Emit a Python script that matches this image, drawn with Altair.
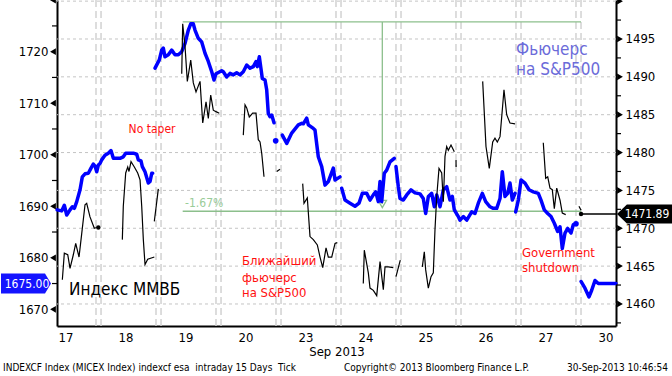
import json
import altair as alt
import pandas as pd

FONT = "DejaVu Sans Condensed, DejaVu Sans, sans-serif"

# ---------------- data ----------------
DAY_LABELS = ["17", "18", "19", "20", "23", "24", "25", "26", "27", "30"]
DAY_TICKS = [i + 0.45 for i in range(len(DAY_LABELS))]
SESSION_BREAKS = [k + d for k in range(1, 10) for d in (-0.042, 0.042)]

LEFT_LABELS = [1670, 1680, 1690, 1700, 1710, 1720]
LEFT_MAJOR = [1670, 1680, 1690, 1700, 1710, 1720, 1730]
LEFT_MINOR = [1675, 1685, 1695, 1705, 1715, 1725]
RIGHT_LABELS = [1460, 1465, 1470, 1475, 1480, 1485, 1490, 1495]
RIGHT_MAJOR = [1460, 1465, 1470, 1475, 1480, 1485, 1490, 1495, 1500]
RIGHT_MINOR = [1457.5, 1462.5, 1467.5, 1472.5, 1477.5, 1482.5, 1487.5, 1492.5, 1497.5]
RIGHT_GRID = [1460, 1465, 1470, 1475, 1480, 1485, 1490, 1495, 1500]

# MICEX index (left axis), trading-day time vs value
MICEX_SEGMENTS = [
    [(0.31, 1689.3), (0.387, 1689.1), (0.43, 1690.2), (0.47, 1688.3), (0.525, 1689.3), (0.563, 1689.9),
     (0.597, 1689.6), (0.637, 1690.9), (0.692, 1693.2), (0.73, 1695.7), (0.775, 1696.3), (0.83, 1696.4),
     (0.875, 1697.4), (0.913, 1698.2), (0.942, 1697.8), (0.97, 1696.7), (0.997, 1698.0), (1.025, 1698.3),
     (1.053, 1699.0), (1.108, 1699.9), (1.163, 1700.3), (1.208, 1700.8), (1.247, 1699.3), (1.358, 1699.3),
     (1.413, 1699.6), (1.453, 1700.3), (1.58, 1700.3), (1.637, 1700.1), (1.663, 1699.0), (1.708, 1698.8),
     (1.73, 1697.7), (1.775, 1696.7), (1.83, 1694.5), (1.858, 1694.8), (1.887, 1696.4), (1.903, 1696.4)],
    [(1.942, 1716.8), (2.013, 1718.4), (2.053, 1720.3), (2.08, 1720.7), (2.108, 1719.0), (2.163, 1719.4),
     (2.22, 1720.3), (2.275, 1719.4), (2.33, 1719.4), (2.387, 1720.0), (2.442, 1721.6), (2.497, 1724.2),
     (2.537, 1725.4), (2.58, 1725.4), (2.608, 1724.2), (2.663, 1722.6), (2.72, 1721.9), (2.775, 1719.7),
     (2.83, 1718.1), (2.887, 1716.1), (2.925, 1714.5), (2.958, 1715.7), (3.053, 1716.3), (3.08, 1716.1),
     (3.137, 1715.1), (3.192, 1715.8), (3.247, 1715.5), (3.303, 1715.9), (3.358, 1715.5), (3.413, 1716.1),
     (3.47, 1717.4), (3.525, 1716.8), (3.58, 1717.1), (3.625, 1718.1), (3.647, 1717.1), (3.68, 1719.0),
     (3.703, 1717.1), (3.73, 1714.8), (3.775, 1714.5), (3.803, 1712.6), (3.83, 1708.0), (3.858, 1707.4),
     (3.887, 1707.7), (3.925, 1706.2)],
    [(4.063, 1703.8), (4.137, 1702.2), (4.22, 1704.2), (4.33, 1705.8), (4.387, 1706.1), (4.413, 1706.0),
     (4.47, 1707.1), (4.497, 1705.8), (4.58, 1705.1), (4.608, 1704.8), (4.663, 1699.6), (4.72, 1697.7),
     (4.775, 1694.1), (4.83, 1694.8), (4.913, 1697.4), (4.942, 1695.1), (5.025, 1695.7)],
    [(5.053, 1693.5), (5.108, 1691.2), (5.192, 1690.6), (5.275, 1690.0), (5.342, 1690.6), (5.397, 1692.5),
     (5.47, 1692.5), (5.525, 1691.2), (5.58, 1692.2), (5.62, 1692.8), (5.663, 1690.9), (5.692, 1694.8),
     (5.72, 1690.9), (5.763, 1696.4), (5.803, 1697.0), (5.858, 1698.6), (5.93, 1699.3)],
    [(5.958, 1697.7), (5.997, 1693.8), (6.025, 1691.5), (6.08, 1691.2), (6.137, 1692.2), (6.208, 1693.2),
     (6.275, 1692.6), (6.358, 1692.4), (6.413, 1691.5), (6.453, 1688.6), (6.497, 1691.9), (6.553, 1692.5),
     (6.597, 1689.9), (6.637, 1692.2), (6.692, 1689.9), (6.747, 1693.2), (6.803, 1693.8), (6.858, 1691.2),
     (6.897, 1691.9), (6.93, 1689.3), (6.997, 1688.0), (7.025, 1687.3), (7.08, 1688.0), (7.137, 1687.3),
     (7.22, 1688.9), (7.275, 1688.6), (7.33, 1690.6), (7.397, 1692.5), (7.453, 1690.9), (7.525, 1689.9),
     (7.58, 1689.6), (7.637, 1689.6), (7.692, 1691.5), (7.73, 1696.7), (7.775, 1691.9), (7.82, 1692.5),
     (7.858, 1694.5), (7.897, 1691.2), (7.942, 1692.5)],
    [(7.953, 1688.9), (7.997, 1691.2), (8.042, 1695.1), (8.108, 1694.5), (8.175, 1693.2), (8.247, 1692.8),
     (8.33, 1692.5), (8.375, 1691.2), (8.43, 1689.3), (8.487, 1688.6), (8.542, 1688.0), (8.597, 1686.7),
     (8.653, 1685.1), (8.692, 1686.0), (8.73, 1681.8), (8.775, 1684.8), (8.82, 1685.7), (8.875, 1684.8),
     (8.913, 1686.4)],
    [(9.042, 1675.4), (9.108, 1674.1), (9.175, 1672.4), (9.22, 1673.7), (9.275, 1675.6), (9.33, 1675.0),
     (9.625, 1675.0)],
]
MICEX_DOTS = [(3.953, 1702.7), (8.958, 1686.6)]
MICEX_LAST = 1675.00

# Nearest S&P500 future (right axis)
SPF_SEGMENTS = [
    [(0.397, 1463.2), (0.43, 1466.7), (0.487, 1466.5), (0.525, 1464.7), (0.58, 1466.5), (0.62, 1468.0),
     (0.675, 1466.2), (0.72, 1469.3), (0.775, 1473.1), (0.803, 1473.3), (0.858, 1471.5), (0.93, 1470.0),
     (0.97, 1470.1)],
    [(1.397, 1468.5), (1.413, 1472.9), (1.453, 1477.3), (1.487, 1478.1), (1.508, 1477.5), (1.542, 1478.8),
     (1.597, 1478.1), (1.653, 1477.3), (1.692, 1476.4), (1.72, 1472.9), (1.747, 1468.5), (1.775, 1465.2),
     (1.82, 1465.9), (1.93, 1466.2)],
    [(1.93, 1470.9), (1.997, 1475.2)],
    [(2.387, 1490.4), (2.403, 1497.0), (2.442, 1494.0), (2.48, 1489.4), (2.537, 1492.2), (2.58, 1489.2),
     (2.625, 1488.0), (2.692, 1489.4), (2.737, 1483.9), (2.792, 1486.7), (2.83, 1484.5), (2.87, 1487.6),
     (2.913, 1485.6), (2.958, 1485.4), (3.013, 1485.2)],
    [(3.413, 1482.3), (3.442, 1486.3), (3.47, 1485.9), (3.513, 1484.7), (3.57, 1485.2), (3.625, 1485.2),
     (3.663, 1481.7), (3.692, 1481.4), (3.72, 1479.9), (3.758, 1476.8)],
    [(3.97, 1477.5), (4.025, 1477.8)],
    [(4.403, 1475.9), (4.425, 1473.3), (4.48, 1474.0), (4.525, 1468.9), (4.58, 1468.5), (4.647, 1467.8),
     (4.692, 1466.2), (4.737, 1464.8), (4.792, 1467.4), (4.83, 1466.2), (4.887, 1466.2), (4.942, 1468.0),
     (4.98, 1468.1)],
    [(5.413, 1462.7), (5.43, 1467.1), (5.497, 1464.1), (5.525, 1462.1), (5.58, 1461.8), (5.637, 1461.1),
     (5.692, 1465.6), (5.747, 1461.9), (5.775, 1464.9), (5.83, 1464.9), (5.913, 1464.8)],
    [(5.958, 1463.6), (6.03, 1465.8)],
    [(6.397, 1464.9), (6.43, 1466.9), (6.453, 1464.5), (6.497, 1462.1), (6.542, 1463.6), (6.58, 1464.1),
     (6.608, 1469.8), (6.637, 1474.2), (6.675, 1477.9), (6.72, 1477.3), (6.747, 1473.5), (6.775, 1479.5),
     (6.803, 1480.8), (6.83, 1480.3), (6.875, 1481.0), (6.93, 1480.1)],
    [(6.958, 1479.0), (6.96, 1478.1)],
    [(7.403, 1489.4), (7.458, 1480.8), (7.513, 1477.9), (7.57, 1481.4), (7.608, 1481.9), (7.647, 1481.4),
     (7.692, 1482.1), (7.72, 1484.7), (7.758, 1488.3), (7.803, 1485.0), (7.858, 1483.9), (7.942, 1483.8)],
    [(8.413, 1481.3), (8.453, 1476.6), (8.487, 1476.8), (8.525, 1475.3), (8.563, 1475.1), (8.597, 1472.6),
     (8.637, 1475.3), (8.692, 1473.7), (8.73, 1472.0), (8.787, 1471.8)],
    [(9.008, 1472.9), (9.042, 1472.4)],
]
SPF_DOTS = [(0.997, 1470.1), (9.042, 1471.89)]
SPF_LAST = 1471.89

# high/low study on the future
STUDY_HIGH = 1497.25
STUDY_LOW = 1472.25
STUDY_T0 = 2.403
STUDY_T1 = 9.042
STUDY_TV = 5.73
STUDY_MARK = 1473.2
STUDY_LABEL = "-1.67%"

# annotations (left scale)
NOTE_TEXT = ["No taper", "Индекс ММВБ", "Ближайший", "фьючерс", "на S&P500",
             "Фьючерс", "на S&P500", "Government", "shutdown"]
NOTE_T = [1.892, 0.508, 3.392, 3.392, 3.392, 7.958, 7.958, 8.058, 8.058]
NOTE_V = [1705.0, 1673.7, 1679.4, 1676.1, 1673.2, 1720.3, 1716.4, 1680.9, 1678.0]
NOTE_KIND = ["red_c", "black_big", "red", "red", "red", "purple", "purple", "red", "red"]

NBSP = "\u00a0"
FOOTER_LEFT = "INDEXCF Index (MICEX Index) indexcf esa" + NBSP + " intraday 15 Days" + NBSP + " Tick"
FOOTER_MID = "Copyright\u00a9 2013 Bloomberg Finance L.P."
FOOTER_RIGHT = "30-Sep-2013 10:46:54"

X_DOMAIN = [0.308, 9.625]
LEFT_DOMAIN = [1666.76, 1730.03]
RIGHT_DOMAIN = [1457.09, 1500.15]

W, H = 559, 326
BLUE = "#0000ff"
GREEN = "#8cbf8c"
RED = "#ff1010"
PURPLE = "#6b6bd9"


def seg_frame(segments):
    rows = []
    for i, seg in enumerate(segments):
        for t, v in seg:
            rows.append({"t": t, "v": v, "seg": i})
    return pd.DataFrame(rows)


micex_df = seg_frame(MICEX_SEGMENTS)
spf_df = seg_frame(SPF_SEGMENTS)

xscale = alt.Scale(domain=X_DOMAIN, nice=False, zero=False)
yl = alt.Scale(domain=LEFT_DOMAIN, nice=False, zero=False)
yr = alt.Scale(domain=RIGHT_DOMAIN, nice=False, zero=False)

x_axis = alt.Axis(
    values=DAY_TICKS,
    labelExpr=json.dumps(DAY_LABELS) + "[floor(datum.value)]",
    ticks=False, grid=False, domain=True, domainColor="black", domainWidth=2,
    labelFont=FONT, labelFontSize=13, labelColor="black", labelPadding=5,
    labelFlush=False, labelOverlap=False,
    title="Sep 2013", titleFont=FONT, titleFontSize=13, titleFontWeight="normal",
    titleColor="black", titlePadding=1,
)
X = alt.X("t:Q", scale=xscale, axis=x_axis)

left_axis = alt.Axis(
    orient="left", values=LEFT_LABELS, format="d", ticks=False, grid=False, domain=True,
    domainColor="black", domainWidth=2, labelFont=FONT, labelFontSize=13,
    labelColor="black", labelPadding=9, title=None,
)
right_axis = alt.Axis(
    orient="right", values=RIGHT_LABELS, format="d", ticks=False, grid=False, domain=True,
    domainColor="black", domainWidth=2, labelFont=FONT, labelFontSize=13,
    labelColor="black", labelPadding=9, title=None,
)

# ---------------- background group (right domain, no axis) ----------------
YRB = alt.Y("v:Q", scale=yr, axis=None)
hgrid = alt.Chart(pd.DataFrame({"v": RIGHT_GRID})).mark_rule(
    color="#c4c4c4", strokeDash=[3, 3], strokeWidth=1).encode(y=YRB)
vgrid = alt.Chart(pd.DataFrame({"t": SESSION_BREAKS})).mark_rule(
    color="#d2d2d2", strokeDash=[7, 4], strokeWidth=1.5).encode(x=X)
study_h = alt.Chart(pd.DataFrame({"t": [STUDY_T0, STUDY_T0], "t2": [STUDY_T1, STUDY_T1],
                                  "v": [STUDY_HIGH, STUDY_LOW]})).mark_rule(
    color=GREEN, strokeWidth=1.3).encode(x=X, x2="t2:Q", y=YRB)
study_v = alt.Chart(pd.DataFrame({"t": [STUDY_TV], "v": [STUDY_HIGH], "v2": [STUDY_MARK]})).mark_rule(
    color=GREEN, strokeWidth=1.3).encode(x=X, y=YRB, y2="v2:Q")
study_tri = alt.Chart(pd.DataFrame({"t": [STUDY_TV], "v": [STUDY_MARK]})).mark_point(
    shape="triangle-down", filled=False, color=GREEN, size=70, strokeWidth=1.3, opacity=1).encode(x=X, y=YRB)
study_txt = alt.Chart(pd.DataFrame({"t": [STUDY_T0 + 0.04], "v": [STUDY_LOW], "s": [STUDY_LABEL]})).mark_text(
    align="left", baseline="bottom", dy=-1, font=FONT, fontSize=12, color="#99cc99").encode(
    x=X, y=YRB, text="s:N")

footer_l = alt.Chart(pd.DataFrame({"s": [FOOTER_LEFT]})).mark_text(
    align="left", baseline="middle", font=FONT, fontSize=10, color="black").encode(
    text="s:N", x=alt.value(-54), y=alt.value(368))
footer_m = alt.Chart(pd.DataFrame({"s": [FOOTER_MID]})).mark_text(
    align="left", baseline="middle", font=FONT, fontSize=10, color="black").encode(
    text="s:N", x=alt.value(287), y=alt.value(368))
footer_r = alt.Chart(pd.DataFrame({"s": [FOOTER_RIGHT]})).mark_text(
    align="right", baseline="middle", font=FONT, fontSize=10, color="black").encode(
    text="s:N", x=alt.value(611), y=alt.value(368))

background = alt.layer(hgrid, vgrid, study_h, study_v, study_tri, study_txt,
                       footer_l, footer_m, footer_r)

# ---------------- MICEX group (left axis) ----------------
YL = alt.Y("v:Q", scale=yl, axis=left_axis)
micex_line = alt.Chart(micex_df).mark_line(
    color=BLUE, strokeWidth=3.5, strokeJoin="round", strokeCap="round").encode(
    x=X, y=YL, detail="seg:N")
micex_dots = alt.Chart(pd.DataFrame(MICEX_DOTS, columns=["t", "v"])).mark_point(
    filled=True, color=BLUE, size=32, opacity=1).encode(x=X, y=YL)
left_ticks = alt.Chart(pd.DataFrame({"v": LEFT_MAJOR})).mark_point(
    shape="triangle-left", filled=True, color="black", size=45, opacity=1).encode(
    x=alt.value(-4), y=YL)
left_minor = alt.Chart(pd.DataFrame({"v": LEFT_MINOR})).mark_rule(
    color="black", strokeWidth=1.2).encode(x=alt.value(-5), x2=alt.value(0), y=YL)
blue_box = alt.Chart(pd.DataFrame({"v": [MICEX_LAST]})).mark_point(
    shape="M-1,-0.4L0.76,-0.4L1,0L0.76,0.4L-1,0.4Z", filled=True, color="#1414ff",
    size=2500, opacity=1).encode(x=alt.value(-31), y=YL)
blue_box_txt = alt.Chart(pd.DataFrame({"v": [MICEX_LAST], "s": [f"{MICEX_LAST:.2f}"]})).mark_text(
    font=FONT, fontSize=12, color="white", baseline="middle", align="center").encode(
    x=alt.value(-30), y=YL, text="s:N")

notes_df = pd.DataFrame({"t": NOTE_T, "v": NOTE_V, "s": NOTE_TEXT, "k": NOTE_KIND})
note_layers = []
for kind, color, size, align in [("red_c", RED, 12, "center"), ("black_big", "black", 17, "left"),
                                 ("red", RED, 13, "left"), ("purple", PURPLE, 17, "left")]:
    note_layers.append(
        alt.Chart(notes_df).transform_filter(alt.datum.k == kind).mark_text(
            font=FONT, fontSize=size, color=color, align=align, baseline="middle").encode(
            x=X, y=YL, text="s:N"))

micex_group = alt.layer(micex_line, micex_dots, left_ticks, left_minor, blue_box, blue_box_txt,
                        *note_layers)

# ---------------- S&P future group (right axis) ----------------
YR = alt.Y("v:Q", scale=yr, axis=right_axis)
spf_line = alt.Chart(spf_df).mark_line(color="black", strokeWidth=1.2).encode(
    x=X, y=YR, detail="seg:N")
spf_dots = alt.Chart(pd.DataFrame(SPF_DOTS, columns=["t", "v"])).mark_point(
    filled=True, color="black", size=20, opacity=1).encode(x=X, y=YR)
last_rule = alt.Chart(pd.DataFrame({"t": [SPF_DOTS[-1][0]], "t2": [X_DOMAIN[1]], "v": [SPF_LAST]})).mark_rule(
    color="black", strokeWidth=1.5).encode(x=X, x2="t2:Q", y=YR)
right_ticks = alt.Chart(pd.DataFrame({"v": RIGHT_MAJOR})).mark_point(
    shape="triangle-right", filled=True, color="black", size=45, opacity=1).encode(
    x=alt.value(W + 4), y=YR)
right_minor = alt.Chart(pd.DataFrame({"v": RIGHT_MINOR})).mark_rule(
    color="black", strokeWidth=1.2).encode(x=alt.value(W), x2=alt.value(W + 5), y=YR)
black_box = alt.Chart(pd.DataFrame({"v": [SPF_LAST]})).mark_point(
    shape="M1,-0.345L-0.64,-0.345L-1,0L-0.64,0.345L1,0.345Z", filled=True, color="black",
    size=3025, opacity=1).encode(x=alt.value(587.5), y=YR)
black_box_txt = alt.Chart(pd.DataFrame({"v": [SPF_LAST], "s": [f"{SPF_LAST:.2f}"]})).mark_text(
    font=FONT, fontSize=12, color="white", baseline="middle", align="center").encode(
    x=alt.value(590), y=YR, text="s:N")

spf_group = alt.layer(spf_line, spf_dots, last_rule, right_ticks, right_minor, black_box, black_box_txt)

chart = alt.layer(background, micex_group, spf_group).resolve_scale(y="independent").properties(
    width=W, height=H,
    padding={"left": 57, "top": 0, "right": 56, "bottom": 50},
    autosize=alt.AutoSizeParams(type="none"),
    background="white",
).configure_view(strokeWidth=0)

chart.save("out.html", embed_options={"renderer": "svg", "actions": False})
